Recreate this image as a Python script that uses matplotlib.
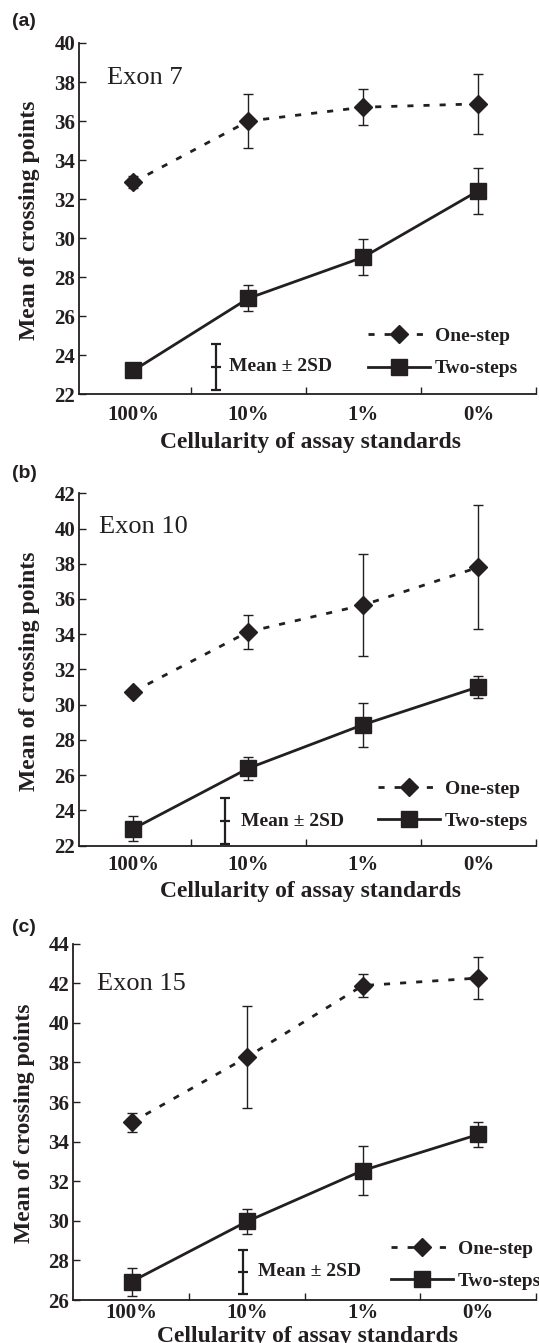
import numpy as np
import matplotlib
matplotlib.use('Agg')
import matplotlib.pyplot as plt

# categories on the x axis
categories = ['100%', '10%', '1%', '0%']

# panel (a) Exon 7
one_step_a = [32.87, 36.00, 36.71, 36.88]
one_step_a_err = [0.30, 1.38, 0.91, 1.54]
two_steps_a = [23.22, 26.92, 29.03, 32.43]
two_steps_a_err = [0.15, 0.66, 0.94, 1.18]

# panel (b) Exon 10
one_step_b = [30.74, 34.14, 35.66, 37.80]
one_step_b_err = [0.15, 0.96, 2.88, 3.52]
two_steps_b = [22.96, 26.39, 28.87, 31.01]
two_steps_b_err = [0.72, 0.66, 1.25, 0.63]

# panel (c) Exon 15
one_step_c = [34.97, 38.27, 41.88, 42.26]
one_step_c_err = [0.50, 2.58, 0.59, 1.04]
two_steps_c = [26.93, 29.97, 32.54, 34.36]
two_steps_c_err = [0.71, 0.63, 1.25, 0.63]

# example "Mean +/- 2SD" bar drawn in each panel (mean, half-width)
sd_key_a = (23.42, 1.18)
sd_key_b = (23.37, 1.31)
sd_key_c = (27.42, 1.13)

ink = '#231f20'
serif = 'Liberation Serif'

fig = plt.figure(figsize=(5.39, 13.43), dpi=100)

panels = [
    dict(tag='(a)', exon='Exon 7', rect=[0.1473, 0.7064, 0.8471, 0.2616],
         ylim=(22, 40), xlim=(-0.47, 3.48),
         one=one_step_a, one_err=one_step_a_err, two=two_steps_a, two_err=two_steps_a_err,
         key=sd_key_a, key_x=0.715, key_tx=0.83, exon_xy=(0.06, 0.883),
         leg=(0.632, 0.119), tag_y=22, tpad=8, xl_y=-0.107, yl_x=-0.087),
    dict(tag='(b)', exon='Exon 10', rect=[0.1473, 0.3704, 0.8471, 0.2623],
         ylim=(22, 42), xlim=(-0.47, 3.48),
         one=one_step_b, one_err=one_step_b_err, two=two_steps_b, two_err=two_steps_b_err,
         key=sd_key_b, key_x=0.80, key_tx=0.935, exon_xy=(0.044, 0.886),
         leg=(0.654, 0.114), tag_y=473, tpad=7, xl_y=-0.10, yl_x=-0.087),
    dict(tag='(c)', exon='Exon 15', rect=[0.1358, 0.0320, 0.8586, 0.2654],
         ylim=(26, 44), xlim=(-0.505, 3.49),
         one=one_step_c, one_err=one_step_c_err, two=two_steps_c, two_err=two_steps_c_err,
         key=sd_key_c, key_x=0.964, key_tx=1.094, exon_xy=(0.052, 0.87),
         leg=(0.686, 0.098), tag_y=927, tpad=2, xl_y=-0.074, yl_x=-0.082),
]

x = np.arange(len(categories))

for p in panels:
    ax = fig.add_axes(p['rect'])

    e1 = ax.errorbar(x, p['one'], yerr=p['one_err'], color=ink, lw=2, dashes=(2.2, 3.6),
                     marker='D', ms=9, elinewidth=1, capsize=3.5, capthick=1,
                     label='One-step', zorder=3)
    e2 = ax.errorbar(x, p['two'], yerr=p['two_err'], color=ink, lw=2,
                     marker='s', ms=11, elinewidth=1, capsize=3.5, capthick=1,
                     label='Two-steps', zorder=3)

    # Mean +/- 2SD key
    kmean, khalf = p['key']
    ax.errorbar([p['key_x']], [kmean], yerr=[khalf], color=ink, elinewidth=1.6,
                capsize=3.5, capthick=1.6, marker='_', ms=7, mew=1.6, ls='none',
                clip_on=False)
    ax.text(p['key_tx'], kmean, 'Mean \u00b1 2SD', fontsize=14, fontweight='bold',
            family=serif, color=ink, va='center', ha='left')

    ax.text(p['exon_xy'][0], p['exon_xy'][1], p['exon'], transform=ax.transAxes,
            fontsize=19, family=serif, color=ink, va='baseline', ha='left')

    ax.set_xlim(*p['xlim'])
    ax.set_ylim(*p['ylim'])
    ax.set_yticks(np.arange(p['ylim'][0], p['ylim'][1] + 1, 2))

    ax.set_xticks([0.5, 1.5, 2.5, 3.5])
    ax.set_xticklabels([])
    ax.set_xticks(x, minor=True)
    ax.set_xticklabels(categories, minor=True)
    ax.tick_params(axis='x', which='major', direction='in', length=5, width=1, color=ink)
    ax.tick_params(axis='x', which='minor', length=0, pad=p['tpad'])
    ax.tick_params(axis='y', direction='in', length=5, width=1, color=ink, pad=3)

    for lab in ax.get_xticklabels(minor=True) + ax.get_yticklabels():
        lab.set_fontfamily(serif)
        lab.set_fontweight('bold')
        lab.set_fontsize(15)
        lab.set_color(ink)

    for s in ['top', 'right']:
        ax.spines[s].set_visible(False)
    for s in ['left', 'bottom']:
        ax.spines[s].set_linewidth(1.3)
        ax.spines[s].set_color(ink)

    ax.set_xlabel('Cellularity of assay standards', fontsize=17, fontweight='bold',
                  family=serif, color=ink)
    ax.xaxis.set_label_coords(0.507, p['xl_y'])
    ax.set_ylabel('Mean of crossing points', fontsize=17, fontweight='bold',
                  family=serif, color=ink)
    ax.yaxis.set_label_coords(p['yl_x'], 0.496)

    leg = ax.legend(handles=[e1.lines[0], e2.lines[0]], labels=['One-step', 'Two-steps'],
                    loc='center left', bbox_to_anchor=p['leg'], frameon=False,
                    handlelength=3.2, handletextpad=0.25, labelspacing=0.75,
                    borderpad=0, borderaxespad=0, numpoints=1,
                    prop=dict(family=serif, weight='bold', size=14))
    for t in leg.get_texts():
        t.set_color(ink)

    fig.text(12 / 539, 1 - p['tag_y'] / 1343, p['tag'], fontsize=14, fontweight='bold',
             family='Liberation Sans', color=ink, va='center', ha='left')

fig.savefig('out.png', dpi=100)
